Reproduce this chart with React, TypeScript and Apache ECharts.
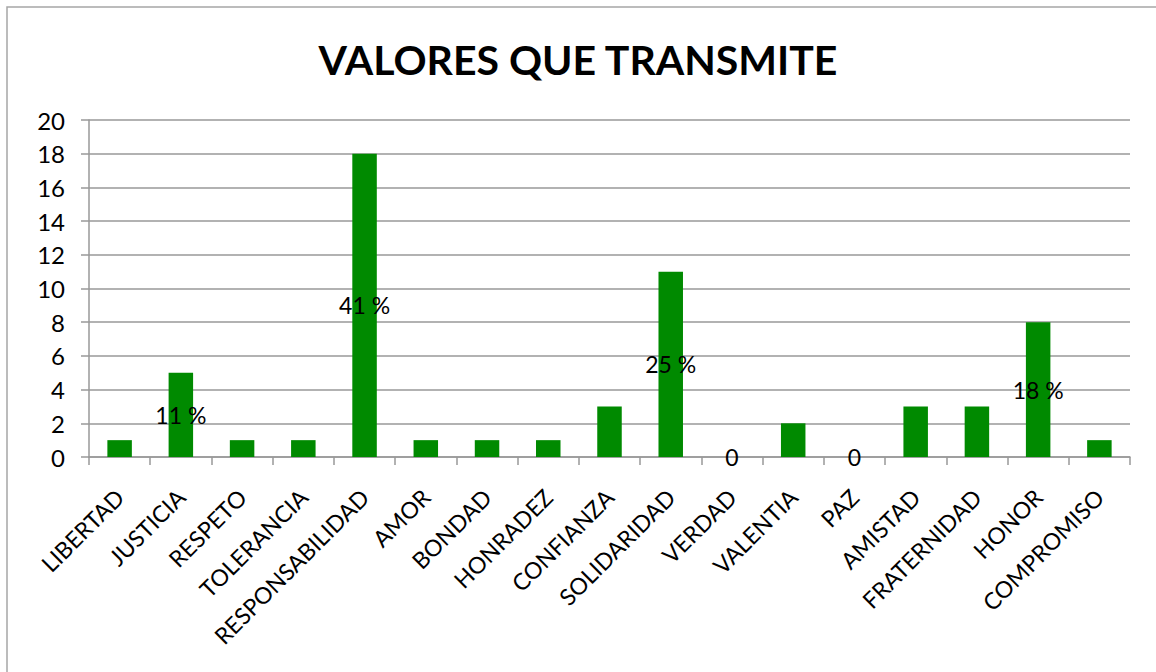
import React, { useEffect, useRef } from "react";
import * as echarts from "echarts";

const categories = [
  "LIBERTAD", "JUSTICIA", "RESPETO", "TOLERANCIA", "RESPONSABILIDAD", "AMOR",
  "BONDAD", "HONRADEZ", "CONFIANZA", "SOLIDARIDAD", "VERDAD", "VALENTIA",
  "PAZ", "AMISTAD", "FRATERNIDAD", "HONOR", "COMPROMISO",
];
const values = [1, 5, 1, 1, 18, 1, 1, 1, 3, 11, 0, 2, 0, 3, 3, 8, 1];
const labelTexts = ["", "11 %", "", "", "41 %", "", "", "", "", "25 %", "0", "", "0", "", "", "18 %", ""];
const titleText = "VALORES QUE TRANSMITE";

const FONT = "Lato, 'Open Sans', sans-serif";

export default function App() {
  const ref = useRef<HTMLDivElement>(null);
  useEffect(() => {
    if (!ref.current) return;
    const chart = echarts.init(ref.current, null, { renderer: "svg" });
    chart.setOption({
      animation: false,
      backgroundColor: "#ffffff",
      textStyle: { fontFamily: FONT },
      title: {
        text: titleText,
        left: "center",
        top: 34,
        textStyle: { fontSize: 41, fontWeight: "bold", color: "#000", fontFamily: FONT },
      },
      graphic: [
        {
          type: "rect",
          shape: { x: 7, y: 7, width: 1160, height: 680 },
          style: { fill: "none", stroke: "#a6a6a6", lineWidth: 1.5 },
          silent: true,
        },
      ],
      grid: { left: 89, right: 26, top: 120, bottom: 215, containLabel: false },
      xAxis: {
        type: "category",
        data: categories,
        boundaryGap: true,
        axisLine: { show: true, lineStyle: { color: "#999", width: 1.5 } },
        axisTick: { show: true, interval: 0, length: 8, lineStyle: { color: "#999", width: 1.5 } },
        axisLabel: {
          interval: 0,
          rotate: 45,
          margin: 36,
          fontSize: 23,
          color: "#000",
          fontFamily: FONT,
        },
      },
      yAxis: {
        type: "value",
        min: 0,
        max: 20,
        interval: 2,
        axisLine: { show: true, lineStyle: { color: "#999", width: 1.5 } },
        axisTick: { show: true, length: 8, lineStyle: { color: "#999", width: 1.5 } },
        axisLabel: { fontSize: 24, color: "#000", margin: 24, fontFamily: FONT },
        splitLine: { show: true, lineStyle: { color: "#999", width: 1.5 } },
      },
      series: [
        {
          type: "bar",
          data: values,
          barWidth: "40%",
          itemStyle: { color: "#008a00" },
          label: {
            show: true,
            position: "inside",
            color: "#000",
            fontSize: 23,
            fontFamily: FONT,
            formatter: (p: any) => labelTexts[p.dataIndex],
          },
        },
      ],
    });
    return () => chart.dispose();
  }, []);
  return (
    <div
      ref={ref}
      style={{ position: "fixed", left: 0, top: 0, width: 1156, height: 672 }}
    />
  );
}
